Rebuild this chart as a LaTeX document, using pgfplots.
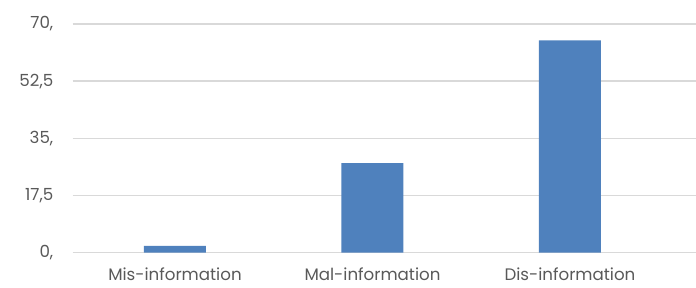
\documentclass[border=0pt]{standalone}
\usepackage{pgfplots}
\pgfplotsset{compat=1.18}
\usepackage{fontspec}
\setmainfont{Poppins}
\definecolor{barblue}{HTML}{4F81BD}
\definecolor{txt}{HTML}{595959}
\definecolor{gridc}{HTML}{D9D9D9}
\begin{document}
\begin{tikzpicture}
\useasboundingbox (0pt,0pt) rectangle (522pt,216pt);
\begin{axis}[
  at={(54.5pt,26.5pt)}, anchor=south west,
  scale only axis,
  width=467.5pt, height=171.5pt,
  xmin=-0.518, xmax=2.638, ymin=0, ymax=70,
  axis line style={draw=none},
  major tick length=0pt,
  ymajorgrids, grid style={gridc, line width=1.1pt},
  ytick={0,17.5,35,52.5,70},
  yticklabels={{0,},{17,5},{35,},{52,5},{70,}},
  xtick={0,1,2},
  xticklabels={Mis-information,Mal-information,Dis-information},
  ticklabel style={font=\fontsize{12.5}{15}\selectfont, text=txt},
  yticklabel style={xshift=-11pt},
  xticklabel style={yshift=-8pt},
  /pgf/number format/assume math mode=true,
]
\addplot[ybar, bar width=46.5pt, fill=barblue, draw=none] coordinates {(0,2.1) (1,27.4) (2,65.0)};
\end{axis}
\end{tikzpicture}
\end{document}
